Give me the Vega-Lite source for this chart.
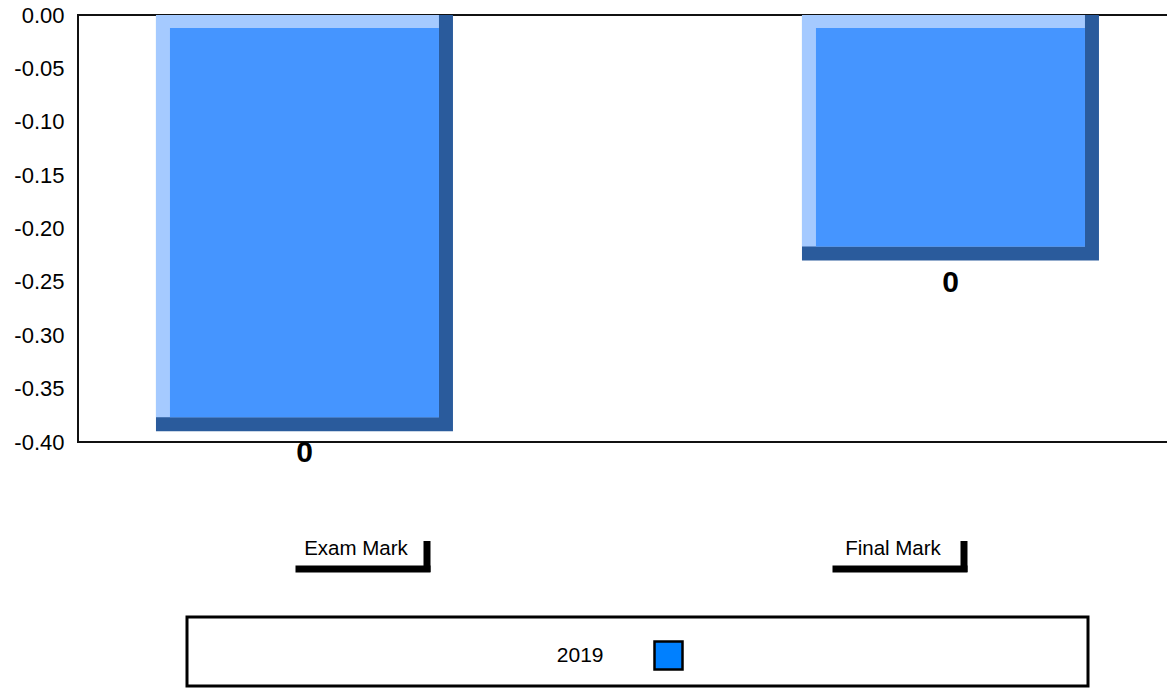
{
  "$schema": "https://vega.github.io/schema/vega-lite/v6.json",
  "autosize": {"type": "pad"},
  "padding": {"left": 12, "top": 3, "right": 0, "bottom": 0},
  "background": "white",
  "config": {
    "font": "Liberation Sans",
    "locale": {"number": {"decimal": ".", "thousands": ",", "grouping": [3], "currency": ["$", ""], "minus": "-"}},
    "axis": {"labelColor": "#000", "labelFont": "Liberation Sans"}
  },
  "datasets": {
    "marks": [
      {"category": "Exam Mark", "value": -0.39, "series": "2019"},
      {"category": "Final Mark", "value": -0.23, "series": "2019"}
    ],
    "legend": [{"series": "2019"}]
  },
  "vconcat": [
    {
      "width": 1119,
      "height": 427,
      "view": {"stroke": "#111", "strokeWidth": 2},
      "data": {"name": "marks"},
      "resolve": {"scale": {"x": "independent"}},
      "layer": [
        {
          "encoding": {
            "x": {"field": "category", "type": "nominal", "sort": null,
              "scale": {"type": "band", "paddingInner": 0.5402, "paddingOuter": 0.1362, "align": 0.443},
              "axis": null},
            "y": {"field": "value", "type": "quantitative",
              "scale": {"domain": [-0.4, 0], "nice": false, "zero": false},
              "axis": {"title": null, "values": [0, -0.05, -0.1, -0.15, -0.2, -0.25, -0.3, -0.35, -0.4], "format": ".2f", "domain": false, "ticks": false, "grid": false, "labelFontSize": 22, "labelPadding": 14, "labelColor": "#000", "labelFlush": false}},
            "y2": {"datum": 0}
          },
          "layer": [
            {"mark": {"type": "bar", "width": 297, "color": "#2a5b9c"}},
            {"mark": {"type": "bar", "width": 283, "xOffset": -7, "yOffset": -14, "color": "#a5caff"}},
            {"mark": {"type": "bar", "width": 269, "yOffset": -14, "y2Offset": 13, "color": "#4595ff"}},
            {"mark": {"type": "text", "baseline": "top", "dy": 7, "fontSize": 30, "fontWeight": "bold", "color": "#000"},
             "encoding": {"y2": null, "text": {"field": "value", "type": "quantitative", "format": ".0f"}}}
          ]
        },
        {
          "encoding": {
            "x": {"field": "category", "type": "nominal", "sort": null,
              "scale": {"type": "band", "paddingInner": 0, "paddingOuter": 0.0419, "align": 0.211},
              "axis": {"orient": "bottom", "title": null, "domain": false, "ticks": false, "labelPadding": 96, "labelFontSize": 20.5, "labelAngle": 0, "labelColor": "#000"}}
          },
          "layer": [
            {"mark": {"type": "tick", "size": 135, "thickness": 7, "xOffset": 7, "yOffset": 127, "color": "#000", "opacity": 1},
             "encoding": {"y": {"datum": -0.4, "type": "quantitative"}}},
            {"mark": {"type": "rule", "strokeWidth": 7, "xOffset": 71, "yOffset": 99, "y2Offset": 130, "color": "#000"},
             "encoding": {"y": {"datum": -0.4, "type": "quantitative"}, "y2": {"datum": -0.4}}}
          ]
        }
      ]
    },
    {
      "width": 901,
      "height": 69,
      "view": {"stroke": "#000", "strokeWidth": 3},
      "data": {"name": "legend"},
      "layer": [
        {"mark": {"type": "text", "align": "right", "baseline": "middle", "dx": -34, "dy": 4, "fontSize": 21, "color": "#000"},
         "encoding": {"text": {"field": "series", "type": "nominal"}}},
        {"mark": {"type": "square", "size": 784, "filled": true, "stroke": "#000", "strokeWidth": 2.5, "xOffset": 31, "yOffset": 4, "opacity": 1},
         "encoding": {"color": {"field": "series", "type": "nominal", "scale": {"range": ["#0080ff"]}, "legend": null}}}
      ]
    }
  ],
  "bounds": "flush",
  "spacing": 175,
  "center": true
}
